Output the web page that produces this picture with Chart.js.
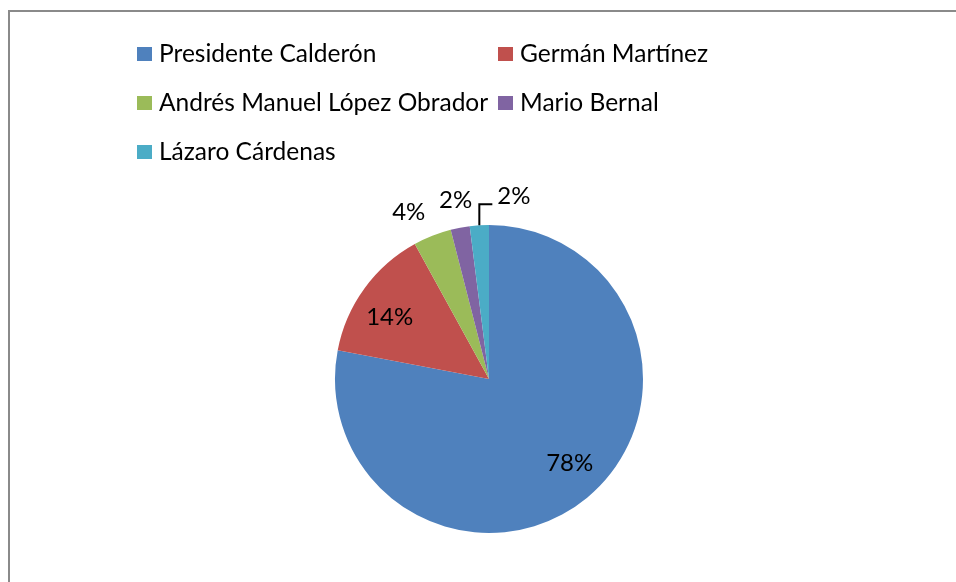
<!DOCTYPE html>
<html>
<head>
<meta charset="utf-8">
<title>Encuesta</title>
<script src="https://cdn.jsdelivr.net/npm/chart.js@4.4.1/dist/chart.umd.min.js"></script>
<style>
  html, body { margin: 0; padding: 0; background: #fff; }
  .frame {
    position: absolute; left: 8px; top: 10px; right: 0; bottom: 0;
    border-left: 2px solid #8a8a8a; border-top: 2px solid #8a8a8a;
  }
  #wrap { position: absolute; left: 0; top: 0; width: 956px; height: 582px; }
</style>
</head>
<body>
<div class="frame"></div>
<div id="wrap"><canvas id="pie"></canvas></div>
<script>
  // Votos por personaje (porcentaje)
  const nombres = ['Presidente Calderón', 'Germán Martínez', 'Andrés Manuel López Obrador', 'Mario Bernal', 'Lázaro Cárdenas'];
  const valores = [78, 14, 4, 2, 2];
  const colores = ['#4F81BD', '#C0504D', '#9BBB59', '#8064A2', '#4BACC6'];

  const FONT = 'Lato, "Open Sans", sans-serif';

  // leyenda en dos columnas, como la de Excel
  const leyendaPlugin = {
    id: 'leyenda',
    afterDraw(chart) {
      const ctx = chart.ctx;
      ctx.save();
      ctx.font = '24.5px ' + FONT;
      ctx.textBaseline = 'middle';
      const colX = [137, 498];
      nombres.forEach((n, i) => {
        const x = colX[i % 2];
        const y = 54 + Math.floor(i / 2) * 49;
        ctx.fillStyle = colores[i];
        ctx.fillRect(x, y - 7, 15, 14);
        ctx.fillStyle = '#000';
        ctx.fillText(n, x + 22, y);
      });
      ctx.restore();
    }
  };

  // etiquetas de porcentaje: dentro para los sectores grandes, fuera para los chicos
  const ajusteFuera = { 2: { dx: -7, dy: -12, align: 'right' }, 3: { dx: 12, dy: -15, align: 'right' } };
  const etiquetasPlugin = {
    id: 'etiquetas',
    afterDatasetsDraw(chart) {
      const ctx = chart.ctx;
      const total = valores.reduce((a, b) => a + b, 0);
      ctx.save();
      ctx.font = '24px ' + FONT;
      ctx.fillStyle = '#000';
      chart.getDatasetMeta(0).data.forEach((arc, i) => {
        const p = arc.getProps(['x', 'y', 'startAngle', 'endAngle', 'outerRadius'], true);
        const mid = (p.startAngle + p.endAngle) / 2;
        const txt = Math.round(valores[i] / total * 100) + '%';
        const rimX = p.x + Math.cos(mid) * p.outerRadius;
        const rimY = p.y + Math.sin(mid) * p.outerRadius;
        if (valores[i] / total >= 0.1) {
          const r = p.outerRadius * 0.76;
          ctx.textAlign = 'center';
          ctx.textBaseline = 'middle';
          ctx.fillText(txt, p.x + Math.cos(mid - 0.07) * r, p.y + Math.sin(mid - 0.07) * r);
        } else if (ajusteFuera[i]) {
          const a = ajusteFuera[i];
          ctx.textAlign = a.align;
          ctx.textBaseline = 'bottom';
          ctx.fillText(txt, rimX + a.dx, rimY + a.dy);
        } else {
          // con línea guía
          const codoY = rimY - 21;
          ctx.strokeStyle = '#000';
          ctx.lineWidth = 2;
          ctx.beginPath();
          ctx.moveTo(rimX, rimY);
          ctx.lineTo(rimX, codoY);
          ctx.lineTo(rimX + 13, codoY);
          ctx.stroke();
          ctx.textAlign = 'left';
          ctx.textBaseline = 'bottom';
          ctx.fillText(txt, rimX + 18, codoY + 4);
        }
      });
      ctx.restore();
    }
  };

  new Chart(document.getElementById('pie'), {
    type: 'pie',
    data: {
      labels: nombres,
      datasets: [{
        data: valores,
        backgroundColor: colores,
        borderWidth: 0
      }]
    },
    options: {
      responsive: true,
      maintainAspectRatio: false,
      animation: false,
      layout: { padding: { top: 225, bottom: 49, left: 22, right: 0 } },
      plugins: {
        legend: { display: false },
        tooltip: { enabled: false }
      }
    },
    plugins: [leyendaPlugin, etiquetasPlugin]
  });
</script>
</body>
</html>
